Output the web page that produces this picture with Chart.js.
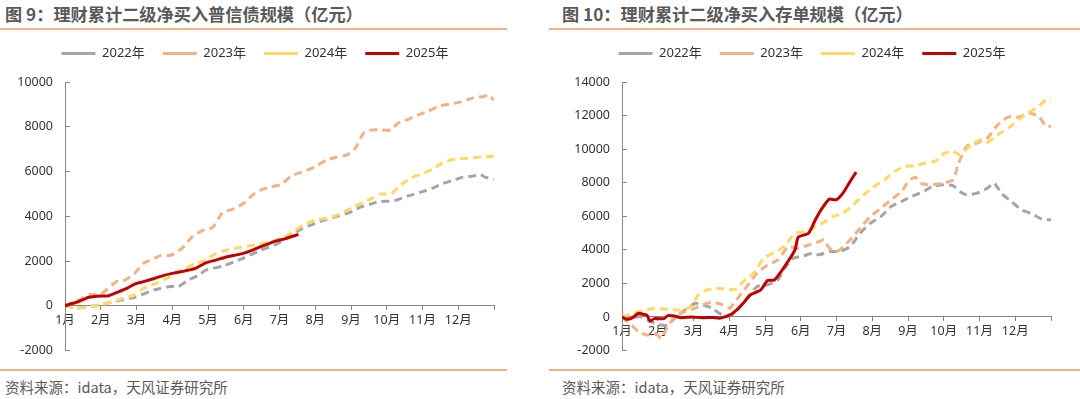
<!DOCTYPE html>
<html>
<head>
<meta charset="utf-8">
<script src="https://cdn.jsdelivr.net/npm/chart.js@4.4.1/dist/chart.umd.min.js"></script>
<style>
  body { margin: 0; width: 1080px; height: 399px; background: #fff; position: relative; overflow: hidden;
         font-family: "Noto Sans CJK SC", sans-serif; }
  .title { position: absolute; top: 1px; font-size: 17.2px; font-weight: bold; color: #595959; white-space: nowrap; }
  .rule { position: absolute; height: 1.5px; background: #F4B183; }
  .src { position: absolute; top: 376px; font-size: 14.5px; color: #595959; white-space: nowrap; }
  .box { position: absolute; top: 24px; width: 520px; height: 351px; }
</style>
</head>
<body>
<div class="title" style="left:5px">图 9：理财累计二级净买入普信债规模（亿元）</div>
<div class="title" style="left:562px">图 10：理财累计二级净买入存单规模（亿元）</div>
<div class="rule" style="left:0;width:507px;top:28px"></div>
<div class="rule" style="left:549px;width:531px;top:28px"></div>
<div class="rule" style="left:0;width:507px;top:369px"></div>
<div class="rule" style="left:549px;width:531px;top:369px"></div>
<div class="src" style="left:5px">资料来源：idata，天风证券研究所</div>
<div class="src" style="left:562px">资料来源：idata，天风证券研究所</div>
<div class="box" style="left:0"><canvas id="bondChart"></canvas></div>
<div class="box" style="left:557px"><canvas id="cdChart"></canvas></div>

<script>
// tahun & bulan
const years = ["2022年", "2023年", "2024年", "2025年"];
const monthLabels = ["1月", "2月", "3月", "4月", "5月", "6月", "7月", "8月", "9月", "10月", "11月", "12月"];
const lineColors = ["#A5A5A5", "#F4B183", "#FFD966", "#C00000"];

// chart kiri: [posisi bulan, nilai]
const bond2022 = [[0,0],[0.3,-100],[0.67,-30],[1,40],[1.34,190],[1.95,380],[2.5,710],[2.95,860],[3.17,860],[3.45,1150],[3.74,1370],[3.94,1590],[4.41,1770],[4.96,2110],[5.47,2480],[5.94,2770],[6.33,3140],[6.62,3440],[6.97,3660],[7.29,3850],[7.68,4030],[7.97,4170],[8.25,4400],[8.54,4540],[8.83,4660],[9.21,4690],[9.6,4910],[9.98,5090],[10.27,5250],[10.56,5460],[10.84,5600],[11.13,5750],[11.42,5800],[11.61,5870],[11.75,5750],[12,5650]];
const bond2023 = [[0,0],[0.4,265],[0.67,490],[1,520],[1.15,700],[1.44,1080],[1.68,1150],[1.95,1450],[2.2,1900],[2.45,2080],[2.7,2250],[2.95,2250],[3.26,2550],[3.55,3070],[3.84,3360],[4.13,3500],[4.41,4170],[4.7,4320],[4.99,4570],[5.28,4990],[5.52,5200],[5.76,5310],[6.05,5430],[6.33,5800],[6.62,5970],[6.97,6190],[7.29,6490],[7.58,6640],[7.87,6730],[8.11,7020],[8.35,7710],[8.59,7860],[8.83,7860],[9.12,7860],[9.31,8160],[9.6,8330],[9.88,8530],[10.17,8700],[10.46,8920],[10.75,9010],[11.08,9110],[11.42,9290],[11.71,9350],[11.85,9410],[12,9190]];
const bond2024 = [[0,0],[0.35,-100],[1,40],[1.34,190],[1.63,340],[1.95,490],[2.2,780],[2.5,970],[2.95,1300],[3.26,1590],[3.65,1890],[3.93,2040],[4.22,2330],[4.51,2480],[4.96,2630],[5.37,2730],[5.76,2850],[6.14,3070],[6.43,3360],[6.72,3660],[6.97,3800],[7.29,3910],[7.58,4030],[7.87,4250],[8.11,4470],[8.35,4620],[8.64,4840],[8.83,4990],[9.12,5010],[9.41,5430],[9.69,5720],[9.98,5900],[10.27,6090],[10.56,6390],[10.84,6530],[11.13,6580],[11.42,6610],[11.71,6670],[12,6670]];
const bond2025 = [[0,0],[0.38,190],[0.67,380],[1,440],[1.2,440],[1.44,590],[1.73,780],[1.95,970],[2.2,1080],[2.5,1220],[2.79,1370],[3.07,1470],[3.36,1560],[3.65,1670],[3.94,1920],[4.22,2040],[4.51,2180],[4.96,2330],[5.28,2510],[5.57,2700],[5.86,2880],[6.14,2990],[6.53,3190]];

// chart kanan: 存单
const cd2022 = [[0,0],[0.22,-80],[0.51,20],[0.8,-280],[1.09,-480],[1.28,-480],[1.52,20],[1.76,420],[2.05,815],[2.24,720],[2.53,520],[2.72,220],[2.96,20],[3.2,320],[3.49,1110],[3.78,1810],[4.07,1910],[4.36,2210],[4.55,2900],[4.79,3500],[5.03,3600],[5.32,3800],[5.51,3700],[5.8,3900],[6.09,3900],[6.38,4190],[6.66,4990],[6.95,5590],[7.24,5980],[7.53,6580],[7.82,6880],[8.1,7180],[8.39,7420],[8.68,7770],[8.97,7870],[9.26,7830],[9.45,7480],[9.64,7280],[9.93,7380],[10.22,7670],[10.41,7970],[10.61,7380],[10.89,6880],[11.18,6380],[11.47,6140],[11.76,5820],[12,5790]];
const cd2023 = [[0,0],[0.22,-380],[0.46,-870],[0.7,-1070],[0.94,-970],[1.09,-1270],[1.28,-580],[1.47,20],[1.76,320],[2.05,520],[2.24,720],[2.53,870],[2.82,720],[3.01,520],[3.2,1010],[3.49,1810],[3.78,2600],[4.07,3100],[4.36,3400],[4.64,4160],[4.93,4100],[5.22,4290],[5.51,4490],[5.65,4590],[5.8,4100],[5.99,3900],[6.09,4000],[6.38,4590],[6.66,5290],[6.95,5980],[7.24,6480],[7.53,6980],[7.82,7480],[8.01,8070],[8.2,8330],[8.39,7950],[8.68,7870],[8.97,7970],[9.26,8170],[9.4,9070],[9.64,10160],[9.93,10360],[10.22,10660],[10.51,11450],[10.8,11910],[11.09,11910],[11.38,12150],[11.66,11950],[11.86,11350],[12,11350]];
const cd2024 = [[0,0],[0.32,220],[0.6,380],[0.9,520],[1.18,460],[1.47,420],[1.76,420],[1.95,720],[2.14,1310],[2.34,1570],[2.63,1710],[2.91,1650],[3.2,1650],[3.39,2110],[3.68,2600],[3.97,3500],[4.26,3840],[4.55,4230],[4.84,4990],[5.13,5090],[5.32,5290],[5.6,5590],[5.89,5980],[6.18,6180],[6.47,6680],[6.76,7280],[7.05,7770],[7.34,8170],[7.63,8670],[7.91,8970],[8.2,9010],[8.49,9170],[8.78,9300],[9.02,9760],[9.26,9860],[9.45,9660],[9.74,10200],[10.03,10560],[10.22,10400],[10.51,10860],[10.8,11250],[11.09,11750],[11.38,12190],[11.66,12550],[11.86,12950],[12,12980]];
const cd2025 = [[0,0],[0.12,-140],[0.27,-80],[0.46,220],[0.6,150],[0.7,100],[0.78,-250],[0.9,-100],[1.18,-100],[1.28,80],[1.47,50],[1.66,-50],[1.95,0],[2.24,-50],[2.53,-30],[2.72,-80],[2.87,0],[3.1,220],[3.39,815],[3.59,1310],[3.88,1610],[4.07,2170],[4.26,2200],[4.45,2700],[4.64,3300],[4.84,4000],[4.93,4750],[5.22,4990],[5.41,5790],[5.6,6480],[5.8,7020],[5.99,6980],[6.18,7380],[6.38,8070],[6.55,8630]];

Chart.defaults.font.family = '"Noto Sans", "Noto Sans CJK SC", sans-serif';
Chart.defaults.color = "#333";

// jarak ekstra di bawah legend + geser legend ke kanan
const legendGap = {
  id: "legendGap",
  beforeInit(chart) {
    const fit = chart.legend.fit;
    chart.legend.fit = function () {
      fit.call(this);
      this.height += 13;
    };
  },
  afterLayout(chart) {
    chart.legend.left += 8;
    chart.legend.right += 8;
    chart.legend.top += 1;
    chart.legend.bottom += 1;
  },
};

function buatChart(id, seriesList, yMax) {
  new Chart(document.getElementById(id), {
    type: "line",
    data: {
      datasets: seriesList.map((s, i) => ({
        label: years[i],
        data: s.map((p) => ({ x: p[0], y: p[1] })),
        borderColor: lineColors[i],
        backgroundColor: lineColors[i],
        borderWidth: 3,
        borderDash: i < 3 ? [8, 5] : [],
        pointRadius: 0,
        tension: 0.2,
        fill: false,
        order: 3 - i,
      })),
    },
    options: {
      responsive: true,
      maintainAspectRatio: false,
      animation: false,
      layout: { padding: { top: 4, right: 26, bottom: 8, left: 0 } },
      plugins: {
        tooltip: { enabled: false },
        legend: {
          labels: {
            usePointStyle: true,
            pointStyle: "line",
            pointStyleWidth: 34,
            padding: 18,
            font: { size: 13 },
            color: "#333",
            sort: (a, b) => a.datasetIndex - b.datasetIndex,
          },
        },
      },
      scales: {
        x: {
          type: "linear",
          position: { y: 0 },
          min: 0,
          max: 12,
          afterFit: (s) => { s.height = 0; },
          ticks: {
            stepSize: 1,
            autoSkip: false,
            maxRotation: 0,
            padding: 3,
            font: { size: 12.5 },
            callback: (v) => monthLabels[v] || "",
          },
          grid: { drawOnChartArea: false, tickLength: 4, color: "#868686" },
          border: { color: "#868686" },
        },
        y: {
          min: -2000,
          max: yMax,
          afterFit: (s) => { s.width = 65; },
          ticks: { stepSize: 2000, padding: 17, font: { size: 12.5 }, callback: (v) => String(v) },
          grid: { drawOnChartArea: false, tickLength: -5, color: "#868686" },
          border: { color: "#868686" },
        },
      },
    },
    plugins: [legendGap],
  });
}

buatChart("bondChart", [bond2022, bond2023, bond2024, bond2025], 10000);
buatChart("cdChart", [cd2022, cd2023, cd2024, cd2025], 14000);
</script>
</body>
</html>
